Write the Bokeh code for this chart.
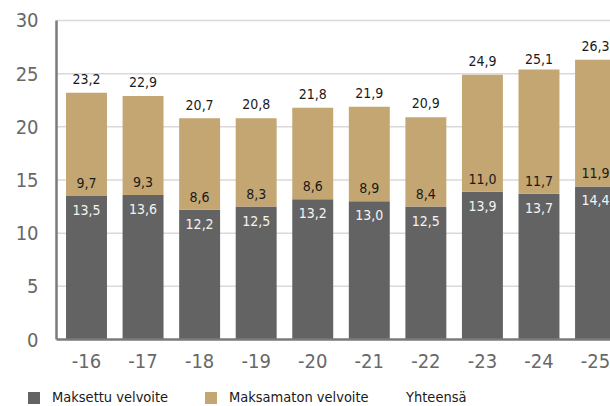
import numpy as np
from bokeh.plotting import figure
from bokeh.models import Range1d, Legend, LegendItem, ColumnDataSource, FixedTicker
from bokeh.core.properties import value
from bokeh.embed import file_html
from bokeh.resources import INLINE

categories = ["-16", "-17", "-18", "-19", "-20", "-21", "-22", "-23", "-24", "-25"]
maksettu = [13.5, 13.6, 12.2, 12.5, 13.2, 13.0, 12.5, 13.9, 13.7, 14.4]
maksamaton = [9.7, 9.3, 8.6, 8.3, 8.6, 8.9, 8.4, 11.0, 11.7, 11.9]
yhteensa = [23.2, 22.9, 20.7, 20.8, 21.8, 21.9, 20.9, 24.9, 25.1, 26.3]
y_ticks = [0, 5, 10, 15, 20, 25, 30]

FONT = "DejaVu Sans Condensed"
GRAY = "#636363"
TAN = "#c4a672"
AXIS_X = -0.53      # where the value axis sits on the category scale
X_END = 9.2645
Y_MIN, Y_MAX = -6.30, 31.88

def fmt(v):
    return f"{v:.1f}".replace(".", ",")

x = list(range(len(categories)))
m1 = np.array(maksettu)
m2 = np.array(maksamaton)
src = ColumnDataSource(dict(
    x=x,
    m1=m1,
    top2=m1 + m2,
    tot=yhteensa,
    l1=[fmt(v) for v in maksettu],
    l2=[fmt(v) for v in maksamaton],
    lt=[fmt(v) for v in yhteensa],
))

p = figure(width=610, height=406, output_backend="svg", toolbar_location=None,
           x_range=Range1d(-1.5205, X_END), y_range=Range1d(Y_MIN, Y_MAX),
           min_border=0)
p.outline_line_color = None
p.background_fill_color = "white"

# horizontal grid lines drawn from the tick values, starting at the value axis
p.ygrid.grid_line_color = None
p.xgrid.grid_line_color = None
p.segment(x0=AXIS_X, x1=X_END, y0=y_ticks[1:], y1=y_ticks[1:],
          line_color="#d9d9d9", line_width=1.5)

r1 = p.vbar(x="x", bottom=0, top="m1", width=0.724, source=src, fill_color=GRAY, line_color=None)
r2 = p.vbar(x="x", bottom="m1", top="top2", width=0.724, source=src, fill_color=TAN, line_color=None)
r3 = p.vbar(x="x", bottom=0, top="tot", width=0.724, source=src, fill_alpha=0, line_alpha=0)

p.text(x="x", y="m1", text="l1", source=src, text_align="center", text_baseline="middle",
       y_offset=14, text_color="#f4f4f4", text_font=value(FONT), text_font_size="14px")
p.text(x="x", y="m1", text="l2", source=src, text_align="center", text_baseline="middle",
       y_offset=-13, text_color="#1a1a1a", text_font=value(FONT), text_font_size="14px")
p.text(x="x", y="tot", text="lt", source=src, text_align="center", text_baseline="middle",
       y_offset=-14, text_color="#1a1a1a", text_font=value(FONT), text_font_size="14px")

p.yaxis.ticker = FixedTicker(ticks=y_ticks)
p.xaxis.ticker = FixedTicker(ticks=x)
p.xaxis.major_label_overrides = {i: c for i, c in enumerate(categories)}
p.xaxis.fixed_location = 0
p.yaxis.fixed_location = AXIS_X
p.xaxis.bounds = (AXIS_X, X_END)
p.yaxis.bounds = (0, 30)

for ax in (p.xaxis[0], p.yaxis[0]):
    ax.axis_line_color = "#7a7a7a"
    ax.axis_line_width = 2.5
    ax.major_tick_line_color = None
    ax.minor_tick_line_color = None
    ax.major_label_text_color = "#686868"
    ax.major_label_text_font = FONT
    ax.major_label_text_font_size = "20px"
p.yaxis.major_label_standoff = 12
p.xaxis.major_label_standoff = 8

legend = Legend(items=[
    LegendItem(label="Maksettu velvoite", renderers=[r1]),
    LegendItem(label="Maksamaton velvoite", renderers=[r2]),
    LegendItem(label="Yhteensä", renderers=[r3]),
], orientation="horizontal", location=(26, 1))
legend.glyph_width = 15
legend.glyph_height = 15
legend.label_standoff = 11
legend.spacing = 1
legend.label_width = 150
legend.padding = 0
legend.margin = 0
legend.border_line_color = None
legend.background_fill_alpha = 0
legend.label_text_font = FONT
legend.label_text_font_size = "14.5px"
legend.label_text_color = "#1a1a1a"
p.add_layout(legend, "center")

open("out.html", "w").write(file_html(p, INLINE))
